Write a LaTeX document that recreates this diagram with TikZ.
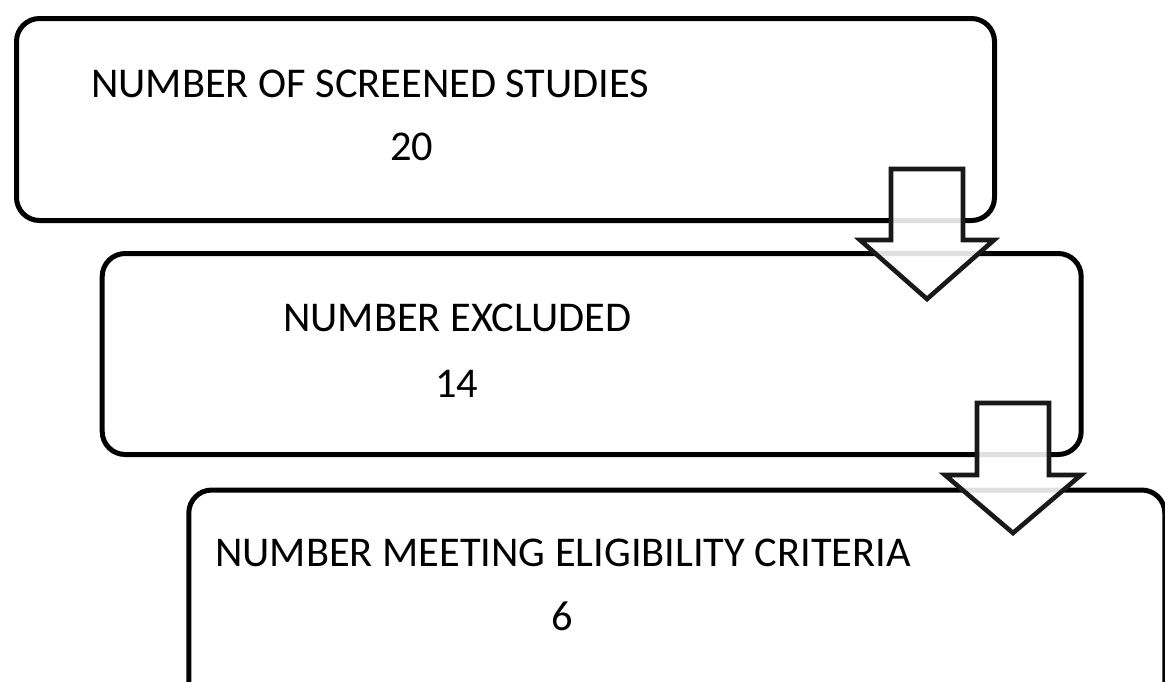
\documentclass[tikz,border=0pt]{standalone}
\usepackage{fontspec}
\setmainfont{Carlito}
\begin{document}
\begin{tikzpicture}[x=1pt,y=-1pt,
  box/.style={draw=black,line width=5pt,rounded corners=23pt,fill=white,inner sep=0pt,anchor=north west},
  lbl/.style={anchor=base west,inner sep=0pt,font=\fontsize{42.4}{50}\selectfont},
  blockarrow/.style={draw=black!90,line width=4.6pt,line join=miter,fill=white,fill opacity=0.88}]
\useasboundingbox (0,0) rectangle (1165,681);
\clip (0,0) rectangle (1165,681);
% boxes
\node[box,minimum width=978pt,minimum height=202pt] (b1) at (14,16) {};
\node[box,minimum width=979pt,minimum height=201pt] (b2) at (99.7,251) {};
\node[box,minimum width=976pt,minimum height=240pt] (b3) at (186.3,487.5) {};
% texts
\node[lbl] (t1a) at (91,97.3) {NUMBER OF SCREENED STUDIES};
\node[lbl] (t1b) at (390,160.7) {20};
\node[lbl] (t2a) at (283,331.7) {NUMBER EXCLUDED};
\node[lbl] (t2b) at (435,397) {14};
\node[lbl] (t3a) at (215,566.7) {NUMBER MEETING ELIGIBILITY CRITERIA};
\node[lbl] (t3b) at (551,630) {6};
% block arrows
\draw[blockarrow] (891,169) -- (963,169) -- (963,240) -- (994,240) -- (927,299) -- (860,240) -- (891,240) -- cycle;
\draw[blockarrow] (977,403) -- (1049,403) -- (1049,475) -- (1081,475) -- (1013,533) -- (945,475) -- (977,475) -- cycle;
\end{tikzpicture}
\end{document}
